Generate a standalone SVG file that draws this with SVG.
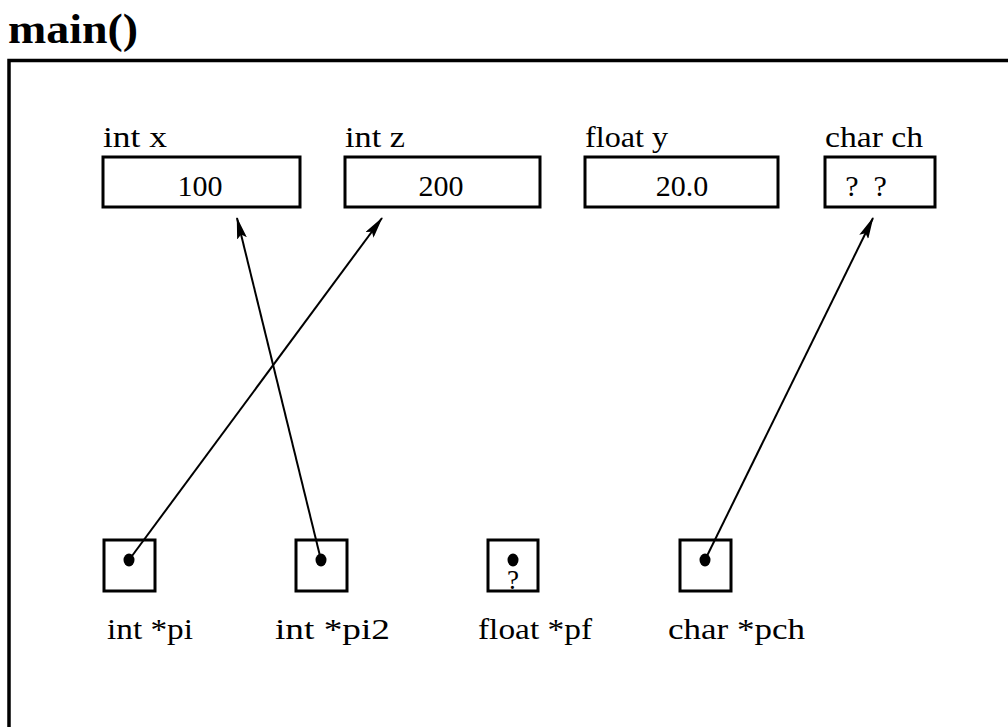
<svg xmlns="http://www.w3.org/2000/svg" width="1008" height="727" viewBox="0 0 1008 727">
  <defs>
    <style>
      text { font-family: "Liberation Serif", "Times New Roman", serif; fill: #000; }
      .title { font-size: 42px; font-weight: bold; }
      .lbl { font-size: 30px; }
      .val { font-size: 30px; text-anchor: middle; }
      .box { fill: #fff; stroke: #000; stroke-width: 3; }
      .frame { fill: none; stroke: #000; stroke-width: 3.5; }
      .link { fill: none; stroke: #000; stroke-width: 2; marker-end: url(#head); }
      .dot { fill: #000; }
    </style>
    <marker id="head" viewBox="0 0 22 10" refX="21" refY="5" markerWidth="22" markerHeight="10" markerUnits="userSpaceOnUse" orient="auto">
      <path d="M0,0 L22,5 L0,10 L4,5 Z" fill="#000"/>
    </marker>
  </defs>

  <!-- frame for the main() stack frame -->
  <g id="frame">
    <text class="title" x="8" y="43" textLength="130" lengthAdjust="spacingAndGlyphs">main()</text>
    <path class="frame" d="M9,727 L9,60.5 L1008,60.5"/>
  </g>

  <!-- variables -->
  <g id="var-x">
    <text class="lbl" x="103" y="147" textLength="64" lengthAdjust="spacingAndGlyphs">int x</text>
    <rect class="box" x="103" y="157" width="197" height="50"/>
    <text class="val" x="200" y="196">100</text>
  </g>
  <g id="var-z">
    <text class="lbl" x="345" y="147" textLength="60" lengthAdjust="spacingAndGlyphs">int z</text>
    <rect class="box" x="345" y="157" width="195" height="50"/>
    <text class="val" x="441" y="196">200</text>
  </g>
  <g id="var-y">
    <text class="lbl" x="585" y="147" textLength="83" lengthAdjust="spacingAndGlyphs">float  y</text>
    <rect class="box" x="585" y="157" width="193" height="50"/>
    <text class="val" x="682" y="196">20.0</text>
  </g>
  <g id="var-ch">
    <text class="lbl" x="825" y="147" textLength="98" lengthAdjust="spacingAndGlyphs">char ch</text>
    <rect class="box" x="825" y="157" width="110" height="50"/>
    <text class="val" x="866" y="196" xml:space="preserve">?  ?</text>
  </g>

  <!-- pointers -->
  <g id="ptr-pi">
    <rect class="box" x="104" y="540" width="51" height="51"/>
    <ellipse class="dot" cx="129" cy="560" rx="5.5" ry="6.5"/>
    <text class="lbl" x="107" y="639" textLength="86" lengthAdjust="spacingAndGlyphs">int *pi</text>
  </g>
  <g id="ptr-pi2">
    <rect class="box" x="296" y="540" width="51" height="51"/>
    <ellipse class="dot" cx="321" cy="560" rx="5.5" ry="6.5"/>
    <text class="lbl" x="275" y="639" textLength="115" lengthAdjust="spacingAndGlyphs">int *pi2</text>
  </g>
  <g id="ptr-pf">
    <rect class="box" x="488" y="540" width="50" height="51"/>
    <ellipse class="dot" cx="513" cy="560" rx="5.5" ry="6.5"/>
    <text x="513" y="589" style="font-size:27px;text-anchor:middle">?</text>
    <text class="lbl" x="478" y="639" textLength="114" lengthAdjust="spacingAndGlyphs">float  *pf</text>
  </g>
  <g id="ptr-pch">
    <rect class="box" x="680" y="540" width="51" height="51"/>
    <ellipse class="dot" cx="705" cy="560" rx="5.5" ry="6.5"/>
    <text class="lbl" x="668" y="639" textLength="137" lengthAdjust="spacingAndGlyphs">char *pch</text>
  </g>

  <!-- pointer links -->
  <g id="connectors">
    <path class="link" d="M129,560 L382,218"/>
    <path class="link" d="M321,560 L237,218"/>
    <path class="link" d="M705,560 L873,218"/>
  </g>
</svg>
